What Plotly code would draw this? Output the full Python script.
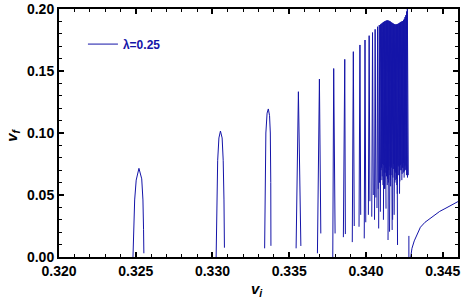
import plotly.graph_objects as go

# ---- data ----
# wide resonance windows, drawn from read points
arch1_x = [0.32482, 0.32487, 0.32493, 0.32503, 0.32521, 0.32539, 0.32547, 0.32551, 0.32553]
arch1_y = [0.0, 0.022, 0.046, 0.062, 0.0715, 0.063, 0.046, 0.022, 0.003]
arch2_x = [0.33024, 0.33028, 0.33034, 0.33042, 0.33052, 0.33063, 0.33070, 0.33075, 0.33078]
arch2_y = [0.0, 0.046, 0.078, 0.096, 0.1016, 0.096, 0.078, 0.046, 0.0075]
arch3_x = [0.33340, 0.33343, 0.33348, 0.33356, 0.33364, 0.33372, 0.33377, 0.33380, 0.33381]
arch3_y = [0.007, 0.060, 0.100, 0.116, 0.1194, 0.114, 0.100, 0.060, 0.009]

# separated narrow windows: left leg x, centre x, right leg x, peak, left foot, right foot
spike_xl = [0.33545, 0.33684, 0.33784, 0.33853, 0.33911, 0.33955, 0.33989, 0.34016,
            0.34038, 0.34056, 0.34072, 0.34083]
spike_xc = [0.33560, 0.33697, 0.33790, 0.33862, 0.33918, 0.33961, 0.33994, 0.34021,
            0.34043, 0.34060, 0.34076, 0.34087]
spike_xr = [0.33576, 0.33706, 0.33799, 0.33866, 0.33924, 0.33966, 0.33999, 0.34026,
            0.34048, 0.34065, 0.34080, 0.34091]
spike_peak = [0.1333, 0.1435, 0.1520, 0.1594, 0.1656, 0.1710, 0.1750, 0.1785,
              0.1810, 0.1836, 0.1857, 0.1870]
spike_footl = [0.007, 0.003, 0.0, 0.016, 0.012, 0.0244, 0.015, 0.034,
               0.0325, 0.030, 0.0395, 0.023]
spike_footr = [0.0089, 0.019, 0.019, 0.0185, 0.025, 0.034, 0.028, 0.045,
               0.050, 0.048, 0.055, 0.060]

# crowded windows just below the threshold
dense_halfwidth = 0.00006
dense_xc = [0.34095, 0.34100, 0.34105, 0.34110, 0.34115, 0.34120, 0.34125, 0.34130,
            0.34135, 0.34140, 0.34145, 0.34150, 0.34155, 0.34160, 0.34165, 0.34170,
            0.34175, 0.34180, 0.34185, 0.34190, 0.34195, 0.34200, 0.34205, 0.34210,
            0.34215, 0.34220, 0.34225, 0.34230, 0.34235, 0.34240, 0.34245, 0.34250,
            0.34255, 0.34260, 0.34265, 0.34270]
dense_peak = [0.1875, 0.1880, 0.1885, 0.1890, 0.1895, 0.1899, 0.1902, 0.1905,
              0.1907, 0.1908, 0.1907, 0.1905, 0.1902, 0.1898, 0.1893, 0.1889,
              0.1885, 0.1881, 0.1878, 0.1876, 0.1875, 0.1876, 0.1878, 0.1881,
              0.1885, 0.1889, 0.1893, 0.1897, 0.1900, 0.1903, 0.1910, 0.1920,
              0.1935, 0.1950, 0.1980, 0.2000]
dense_footl = [0.060, 0.0365, 0.070, 0.062, 0.075, 0.030, 0.068, 0.055,
               0.072, 0.065, 0.058, 0.0137, 0.070, 0.0204, 0.062, 0.074,
               0.066, 0.030, 0.071, 0.034, 0.060, 0.068, 0.063, 0.051,
               0.074, 0.066, 0.051, 0.070, 0.075, 0.062, 0.072, 0.068,
               0.064, 0.073, 0.070, 0.066]
dense_footr = [0.072, 0.065, 0.058, 0.074, 0.055, 0.068, 0.039, 0.071,
               0.063, 0.060, 0.073, 0.066, 0.057, 0.072, 0.0218, 0.064,
               0.075, 0.069, 0.062, 0.070, 0.058, 0.0097, 0.073, 0.066,
               0.061, 0.074, 0.070, 0.067, 0.072, 0.076, 0.069, 0.074,
               0.071, 0.077, 0.064, 0.066]

# short stub and the branch after the last window
stub_x = [0.34280, 0.34280]
stub_y = [0.0, 0.017]
tail_x = [0.34292, 0.34300, 0.34315, 0.34335, 0.34355, 0.34385, 0.34416, 0.34450,
          0.34481, 0.34515, 0.34545, 0.34575, 0.34600]
tail_y = [0.0, 0.007, 0.013, 0.019, 0.024, 0.028, 0.031, 0.0345,
          0.0368, 0.039, 0.041, 0.043, 0.0447]

x_ticks = [0.320, 0.325, 0.330, 0.335, 0.340, 0.345]
y_ticks = [0.00, 0.05, 0.10, 0.15, 0.20]
series_name = "λ=0.25"

# ---- assemble one path with gaps ----
xs, ys = [], []
for ax_, ay_ in [(arch1_x, arch1_y), (arch2_x, arch2_y), (arch3_x, arch3_y)]:
    xs += ax_ + [None]
    ys += ay_ + [None]
for xl, xc, xr, p, fl, fr in zip(spike_xl, spike_xc, spike_xr, spike_peak, spike_footl, spike_footr):
    xs += [xl, xc, xr, None]
    ys += [fl, p, fr, None]
for xc, p, fl, fr in zip(dense_xc, dense_peak, dense_footl, dense_footr):
    xs += [xc - dense_halfwidth, xc, xc + dense_halfwidth, None]
    ys += [fl, p, fr, None]
xs += stub_x + [None] + tail_x
ys += stub_y + [None] + tail_y

color = "#1414a8"
fig = go.Figure()
fig.add_trace(go.Scatter(x=xs, y=ys, mode="lines", name=series_name,
                         line=dict(color=color, width=1), connectgaps=False,
                         showlegend=True, cliponaxis=True))

font_fam = "Liberation Sans, Arial, sans-serif"
axis_common = dict(
    showgrid=False, zeroline=False, showline=True, linecolor="black", linewidth=2,
    mirror="allticks", ticks="inside", ticklen=5, tickwidth=1.5, tickcolor="black",
    automargin=False,
    tickfont=dict(family=font_fam, size=14, color="black", weight="bold"),
)
fig.update_xaxes(range=[0.320, 0.346], tickvals=x_ticks,
                 ticktext=[f"{v:.3f}" for v in x_ticks],
                 minor=dict(dtick=0.001, tick0=0.320, ticks="inside", ticklen=3,
                            tickcolor="black", tickwidth=1.2),
                 **axis_common)
fig.update_yaxes(range=[0.0, 0.20], tickvals=y_ticks,
                 ticktext=[f"{v:.2f}" for v in y_ticks],
                 minor=dict(dtick=0.01, tick0=0.0, ticks="inside", ticklen=3,
                            tickcolor="black", tickwidth=1.2),
                 **axis_common)

fig.add_annotation(text="<b><i>v</i><sub><i>i</i></sub></b>", xref="paper", yref="paper",
                   x=0.496, y=0, xanchor="center", yanchor="middle", yshift=-32,
                   showarrow=False, font=dict(family=font_fam, size=15, color="black"))
fig.add_annotation(text="<b><i>v</i><sub><i>f</i></sub></b>", xref="paper", yref="paper",
                   x=-0.117, y=0.49, xanchor="center", yanchor="middle", textangle=-90,
                   showarrow=False, font=dict(family=font_fam, size=15, color="black"))

fig.update_layout(
    width=464, height=303,
    margin=dict(l=59, r=6, t=9, b=46),
    paper_bgcolor="white", plot_bgcolor="white",
    showlegend=True,
    legend=dict(x=0.06, y=0.917, xanchor="left", yanchor="top",
                bgcolor="rgba(0,0,0,0)",
                font=dict(family=font_fam, size=12, color=color, weight="bold")),
)
fig.write_html("out.html", config={"displayModeBar": False},
               post_script="document.body.style.margin='0';document.body.style.overflow='hidden';")
